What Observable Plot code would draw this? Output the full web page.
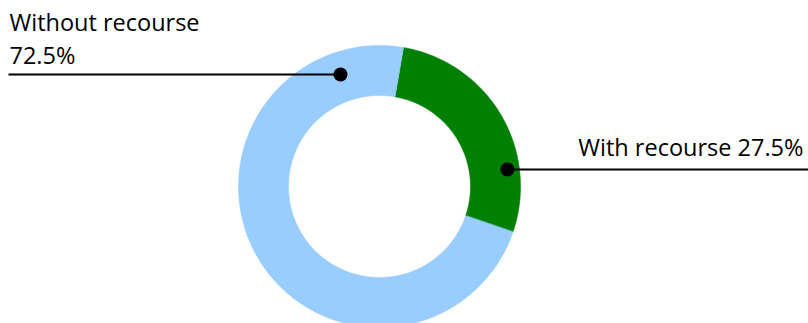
<!DOCTYPE html>
<html>
<head>
<meta charset="utf-8">
<script src="https://cdn.jsdelivr.net/npm/d3@7"></script>
<script src="https://cdn.jsdelivr.net/npm/@observablehq/plot@0.6"></script>
<style>
  html, body { margin: 0; padding: 0; background: #fff; }
  #chart svg { display: block; }
</style>
</head>
<body>
<div id="chart"></div>
<script>
// ---- data ----
const categories = ["With recourse", "Without recourse"];
const shares = [27.5, 72.5];
const colors = ["#008000", "#99CCFF"];

// ---- layout ----
const W = 808, H = 323;
const cx = 379, cy = 186, rOuter = 141, rInner = 91;
const startDeg = 9.8;               // first slice angle (clockwise from 12 o'clock)
const anchorDeg = [82.4, -19.2];     // where each leader line touches the ring
const anchorR = [129, 118.6];

const total = d3.sum(shares);
const toRad = d => d * Math.PI / 180;
const pt = (angDeg, r) => [cx + r * Math.sin(toRad(angDeg)), cy - r * Math.cos(toRad(angDeg))];

// build annular sector polygons from the data
const polys = [];
let a = startDeg;
shares.forEach((v, i) => {
  const a0 = a, a1 = a + v / total * 360;
  const n = Math.max(8, Math.ceil((a1 - a0) / 0.5));
  for (let k = 0; k <= n; k++) { const [x, y] = pt(a0 + (a1 - a0) * k / n, rOuter); polys.push({key: categories[i], color: colors[i], x, y}); }
  for (let k = n; k >= 0; k--) { const [x, y] = pt(a0 + (a1 - a0) * k / n, rInner); polys.push({key: categories[i], color: colors[i], x, y}); }
  a = a1;
});

const anchors = categories.map((c, i) => { const [x, y] = pt(anchorDeg[i], anchorR[i]); return {key: c, x, y}; });

// leader lines: right goes to edge, left goes to text start
const leaders = [
  {key: categories[0], x1: anchors[0].x, y1: anchors[0].y, x2: W, y2: anchors[0].y},
  {key: categories[1], x1: 8, y1: anchors[1].y, x2: anchors[1].x, y2: anchors[1].y}
];
const fmt = v => v.toFixed(1) + "%";
const fs = 23.5;

const chart = Plot.plot({
  width: W, height: H,
  margin: 0,
  x: {domain: [0, W], range: [0, W], axis: null},
  y: {domain: [0, H], range: [0, H], axis: null},
  style: {fontFamily: "'Open Sans', sans-serif", background: "#fff"},
  marks: [
    Plot.line(polys, {x: "x", y: "y", z: "key", fill: "color", stroke: "color", strokeWidth: 0.6, curve: "linear-closed"}),
    Plot.link(leaders, {x1: "x1", y1: "y1", x2: "x2", y2: "y2", stroke: "#000", strokeWidth: 2}),
    Plot.dot(anchors, {x: "x", y: "y", r: 7, fill: "#000", stroke: "none"}),
    Plot.text([categories[1]], {x: () => 9, y: () => 30, text: d => d, textAnchor: "start", lineAnchor: "bottom", fontSize: fs, fill: "#000"}),
    Plot.text([shares[1]], {x: () => 9, y: () => 63, text: d => fmt(d), textAnchor: "start", lineAnchor: "bottom", fontSize: fs, fill: "#000"}),
    Plot.text([0], {x: () => 803, y: () => 155, text: () => categories[0] + " " + fmt(shares[0]), textAnchor: "end", lineAnchor: "bottom", fontSize: fs, fill: "#000"})
  ]
});
document.getElementById("chart").appendChild(chart);
</script>
</body>
</html>
